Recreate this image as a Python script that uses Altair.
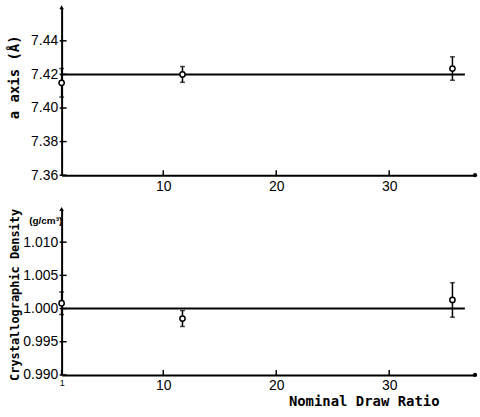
import altair as alt
import pandas as pd

# ---- data ----
draw_ratio = [1, 11.7, 35.6]
a_axis = [7.415, 7.420, 7.4235]
a_err = [0.0085, 0.0047, 0.007]
density = [1.0008, 0.9985, 1.0013]
density_err = [0.0017, 0.0012, 0.0026]
fit_x = [1, 36.7]
a_fit = [7.42, 7.42]
density_fit = [1.000, 1.000]

a_ticks = [7.36, 7.38, 7.40, 7.42, 7.44]
d_ticks = [0.990, 0.995, 1.000, 1.005, 1.010]
x_ticks_top = [10, 20, 30]
x_ticks_bottom = [1, 10, 20, 30]

W, H1, H2 = 416, 169, 167
LABEL_FONT = "Liberation Sans"
TITLE_FONT = "DejaVu Sans Mono"

pts_a = pd.DataFrame({"x": draw_ratio, "y": a_axis,
                      "lo": [v - e for v, e in zip(a_axis, a_err)],
                      "hi": [v + e for v, e in zip(a_axis, a_err)]})
pts_d = pd.DataFrame({"x": draw_ratio, "y": density,
                      "lo": [v - e for v, e in zip(density, density_err)],
                      "hi": [v + e for v, e in zip(density, density_err)]})
fit_a = pd.DataFrame({"x": fit_x, "y": a_fit})
fit_d = pd.DataFrame({"x": fit_x, "y": density_fit})

xscale = alt.Scale(domain=[1, 37.6], nice=False, zero=False)
NOVIEW = alt.ViewBackground(strokeWidth=0, stroke="transparent")


def panel(pts, fit, ydomain, yticks, xticks, ytitle, height, xtitle, ytitle_y, title_size):
    yscale = alt.Scale(domain=ydomain, nice=False, zero=False)
    if xtitle:
        xaxis = alt.Axis(values=xticks, tickSize=0, labelPadding=4, grid=False,
                         domainColor="black", domainWidth=2, labelColor="black",
                         labelFont=LABEL_FONT,
                         labelFontSize={"condition": {"test": "datum.value == 1", "value": 9}, "value": 14},
                         labelFlush=False, labelOverlap=False,
                         title=xtitle,
                         titleFont=TITLE_FONT, titleFontSize=14, titleFontWeight="bold",
                         titleX=304, titleY=20, titleColor="black")
    else:
        xaxis = alt.Axis(values=xticks, tickSize=0, labelPadding=4, grid=False,
                         domainColor="black", domainWidth=2, labelColor="black",
                         labelFont=LABEL_FONT, labelFontSize=14,
                         labelFlush=False, labelOverlap=False, title=None)
    yaxis = alt.Axis(values=yticks, tickSize=0, labelPadding=4, grid=False,
                     domainColor="black", domainWidth=2, labelColor="black",
                     labelFont=LABEL_FONT, labelFontSize=14, labelFlush=False,
                     labelOverlap=False,
                     format=".2f" if ydomain[0] > 5 else ".3f",
                     title=ytitle, titleFont=TITLE_FONT, titleFontSize=title_size,
                     titleFontWeight="bold", titleColor="black",
                     titleX=-47, titleY=ytitle_y, titleAlign="center", titleAngle=-90,
                     titleBaseline="middle")

    base_x = alt.X("x:Q", scale=xscale, axis=xaxis)
    base_y = alt.Y("y:Q", scale=yscale, axis=yaxis)

    line = alt.Chart(fit).mark_line(color="black", strokeWidth=2).encode(x=base_x, y=base_y)
    bars = alt.Chart(pts).mark_rule(color="black", strokeWidth=1.5).encode(
        x=alt.X("x:Q", scale=xscale), y=alt.Y("lo:Q", scale=yscale), y2="hi:Q")
    cap_lo = alt.Chart(pts).mark_tick(color="black", orient="horizontal", size=5, thickness=1.5).encode(
        x=alt.X("x:Q", scale=xscale), y=alt.Y("lo:Q", scale=yscale))
    cap_hi = alt.Chart(pts).mark_tick(color="black", orient="horizontal", size=5, thickness=1.5).encode(
        x=alt.X("x:Q", scale=xscale), y=alt.Y("hi:Q", scale=yscale))
    dots = alt.Chart(pts).mark_point(shape="circle", size=28, filled=True, fill="white",
                                     stroke="black", strokeWidth=1.5, opacity=1).encode(
        x=alt.X("x:Q", scale=xscale), y=alt.Y("y:Q", scale=yscale))

    ytick_df = pd.DataFrame({"v": yticks})
    xtick_df = pd.DataFrame({"v": xticks})
    yt = alt.Chart(ytick_df).mark_rule(color="black", strokeWidth=1.5).encode(
        y=alt.Y("v:Q", scale=yscale), x=alt.value(-2), x2=alt.value(5))
    xt = alt.Chart(xtick_df).mark_rule(color="black", strokeWidth=1.5).encode(
        x=alt.X("v:Q", scale=xscale), y=alt.value(height), y2=alt.value(height - 5))
    arrow_up = alt.Chart(fit.head(1)).mark_point(shape="triangle-up", filled=True, color="black",
                                                 size=20, opacity=1).encode(
        x=alt.value(0), y=alt.value(0))
    arrow_right = alt.Chart(fit.head(1)).mark_point(shape="circle", filled=True, color="black",
                                                    size=18, opacity=1).encode(
        x=alt.value(W), y=alt.value(height))

    return alt.layer(line, bars, cap_lo, cap_hi, dots, yt, xt, arrow_up, arrow_right).properties(
        width=W, height=height, view=NOVIEW)


top = panel(pts_a, fit_a, [7.36, 7.46], a_ticks, x_ticks_top, "a axis (Å)", H1, None, 70, 14)
bottom_main = panel(pts_d, fit_d, [0.990, 1.015], d_ticks, x_ticks_bottom,
                    "Crystallographic Density", H2, "Nominal Draw Ratio", 86, 12)
unit = alt.Chart(fit_d.head(1)).mark_text(text="(g/cm³)", font=LABEL_FONT, fontSize=10,
                                         fontWeight="bold", color="black", align="center",
                                         baseline="middle").encode(
    x=alt.value(-16), y=alt.value(12))
bottom = alt.layer(bottom_main, unit).properties(view=NOVIEW)

chart = alt.vconcat(top, bottom, spacing=34, bounds="flush").properties(
    padding={"left": 7, "top": 4, "right": 2, "bottom": 2}
).configure_view(strokeWidth=0, stroke="transparent").configure(background="white")

chart.save("out.html", embed_options={"renderer": "svg", "actions": False})
